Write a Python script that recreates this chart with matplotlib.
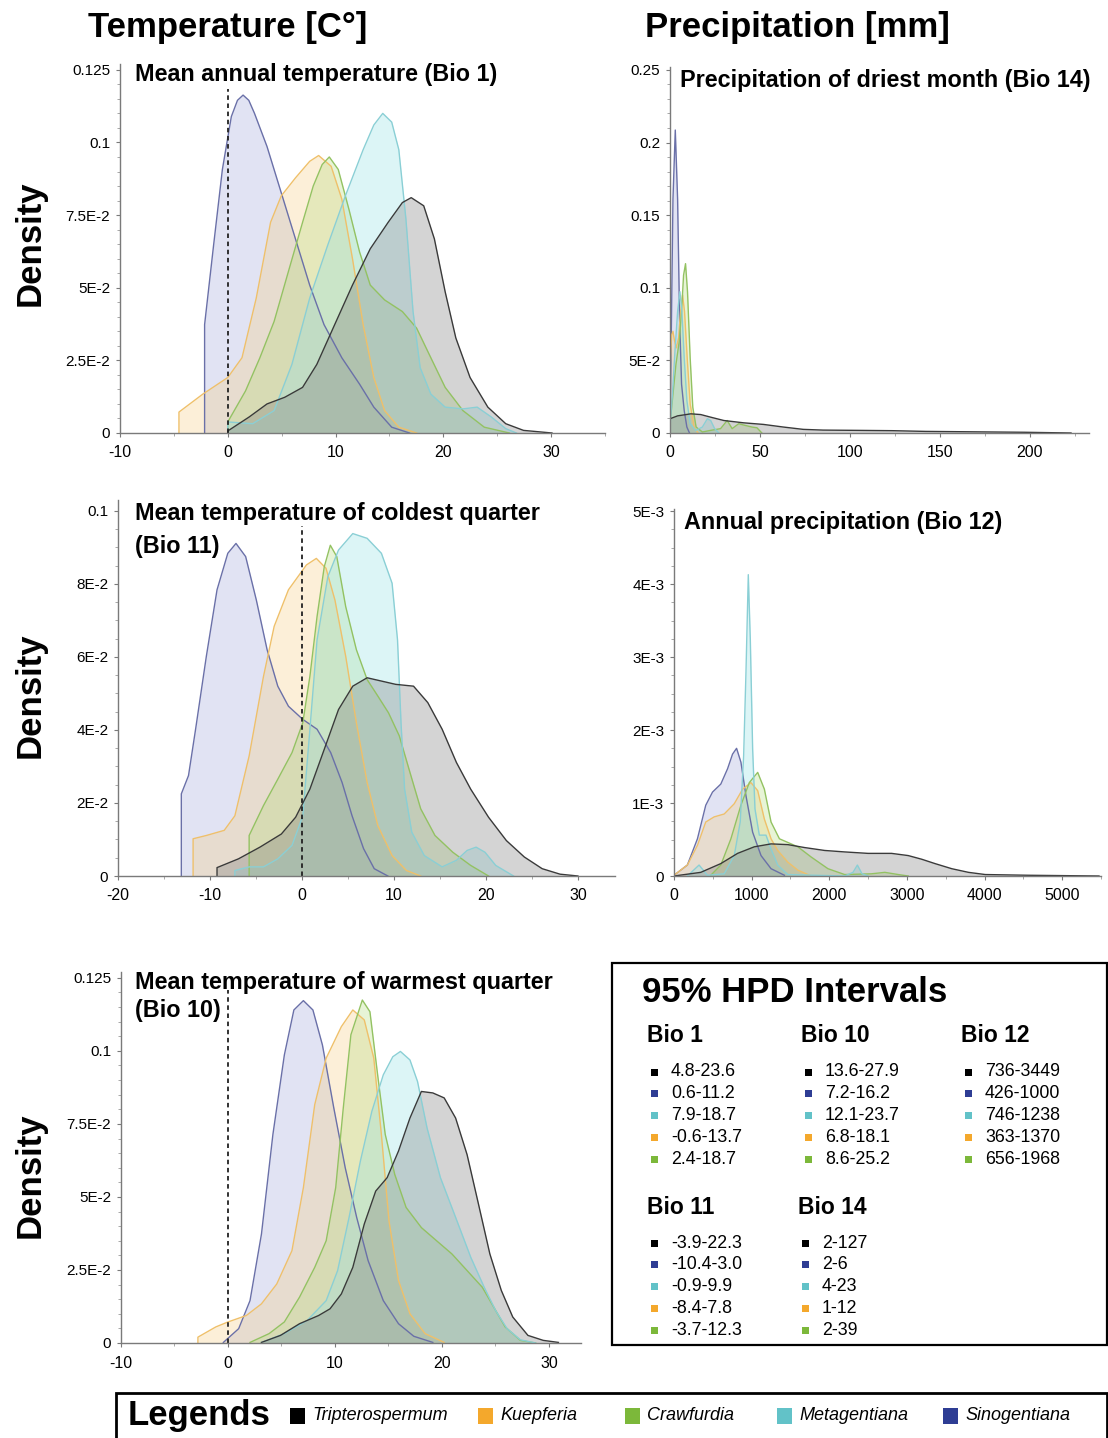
import matplotlib
matplotlib.use("Agg")
import matplotlib.pyplot as plt
from matplotlib.patches import Rectangle
from matplotlib.ticker import MultipleLocator

plt.rcParams['font.family'] = ['Liberation Sans', 'DejaVu Sans']
plt.rcParams['axes.unicode_minus'] = False

W, H = 1108, 1438

species = ["Tripterospermum", "Kuepferia", "Crawfurdia", "Metagentiana", "Sinogentiana"]
legend_colors = ["#000000", "#f4a82c", "#7cb83a", "#62c2c8", "#2e3d94"]
fill_colors = {"sino": "#a3a8dc", "kuep": "#f8cd7e", "craw": "#b2db78", "meta": "#93e0e6", "trip": "#7a7a7a"}
edge_colors = {"sino": "#6a70a8", "kuep": "#efc06a", "craw": "#93c262", "meta": "#8acfd5", "trip": "#3a3a3a"}
fill_alpha = {"sino": 0.32, "kuep": 0.3, "craw": 0.3, "meta": 0.32, "trip": 0.32}

# ---- Bio 1: mean annual temperature ----
bio1_sino_x = [-2.15, -2.15, -1.32, -0.5, 0.33, 0.9, 1.42, 1.95, 2.48, 3.64, 4.96, 6.28, 7.6, 8.93, 10.58, 12.23, 13.55, 15.21, 16.86]
bio1_sino_y = [0, 0.0373, 0.0645, 0.0907, 0.1089, 0.1145, 0.1163, 0.1145, 0.110, 0.0986, 0.0827, 0.0668, 0.0509, 0.0373, 0.0259, 0.0168, 0.0089, 0.002, 0]
bio1_kuep_x = [-4.53, -4.53, -2.31, 0, 1.32, 2.64, 3.97, 4.96, 6.28, 7.6, 8.43, 9.59, 10.58, 11.57, 12.56, 13.55, 14.55, 15.87, 17.52]
bio1_kuep_y = [0, 0.0072, 0.0134, 0.0191, 0.0259, 0.0464, 0.0725, 0.0816, 0.0878, 0.0935, 0.0955, 0.0918, 0.0805, 0.060, 0.0373, 0.0191, 0.0077, 0.002, 0]
bio1_craw_x = [0, 0, 1.65, 2.98, 4.3, 5.62, 6.94, 7.93, 8.76, 9.42, 10.25, 11.24, 12.23, 13.22, 14.55, 16.2, 17.52, 18.84, 20.17, 21.82, 23.8, 26.12]
bio1_craw_y = [0, 0.0038, 0.0145, 0.0259, 0.0384, 0.0555, 0.0725, 0.085, 0.0924, 0.095, 0.0907, 0.077, 0.0623, 0.0509, 0.0458, 0.0418, 0.0361, 0.0259, 0.0157, 0.0077, 0.002, 0]
bio1_meta_x = [0, 0, 2.31, 4.3, 5.95, 7.6, 9.26, 10.91, 12.56, 13.55, 14.38, 15.21, 15.87, 16.53, 17.19, 17.85, 18.84, 20.17, 21.82, 23.14, 24.46, 25.79, 26.78]
bio1_meta_y = [0, 0.0038, 0.0032, 0.0077, 0.0236, 0.0464, 0.0645, 0.0816, 0.0975, 0.106, 0.110, 0.107, 0.0975, 0.0736, 0.0418, 0.0225, 0.0134, 0.0089, 0.0083, 0.0089, 0.0055, 0.0015, 0]
bio1_trip_x = [0, 0, 1.98, 3.64, 5.29, 6.94, 8.26, 9.92, 11.57, 13.22, 14.88, 16.2, 17.02, 18.18, 19.17, 20.17, 21.16, 22.48, 24.13, 25.79, 27.44, 30.08]
bio1_trip_y = [0, 0.0007, 0.0055, 0.010, 0.0123, 0.0157, 0.0236, 0.0373, 0.0509, 0.0634, 0.0725, 0.0793, 0.081, 0.0782, 0.0668, 0.0486, 0.0327, 0.0191, 0.0089, 0.0032, 0.0009, 0]

# ---- Bio 14: precipitation of driest month ----
bio14_sino_x = [0, 0.55, 1.65, 2.94, 4.23, 5.33, 6.43, 7.9, 9.38, 10.85]
bio14_sino_y = [0, 0.0518, 0.161, 0.2086, 0.161, 0.079, 0.0336, 0.0155, 0.0041, 0]
bio14_kuep_x = [0, 0, 0.92, 1.65, 2.39, 3.49, 4.78, 5.88, 6.99, 8.09, 9.56, 11.21, 13.42, 15.63]
bio14_kuep_y = [0, 0.0427, 0.0677, 0.070, 0.0643, 0.0586, 0.0655, 0.0836, 0.095, 0.0836, 0.0518, 0.020, 0.0041, 0]
bio14_craw_x = [0, 0, 1.47, 3.31, 5.15, 6.43, 7.54, 8.64, 9.74, 11.21, 12.68, 14.52, 18.01, 22.61, 28.13, 31.8, 34.56, 38.24, 41.91, 45.59, 48.35, 51.1]
bio14_craw_y = [0, 0.0064, 0.0245, 0.0473, 0.0632, 0.0836, 0.1086, 0.1166, 0.0973, 0.0518, 0.0177, 0.0041, 0.0007, 0.0018, 0.003, 0.0086, 0.003, 0.0064, 0.0052, 0.0041, 0.0036, 0]
bio14_meta_x = [0, 0, 1.47, 2.76, 4.23, 5.51, 6.62, 7.9, 9.38, 11.21, 14.34, 18.01, 20.77, 22.61, 24.82, 27.21]
bio14_meta_y = [0, 0.0041, 0.029, 0.0564, 0.0836, 0.0973, 0.0836, 0.0518, 0.0223, 0.0064, 0.0018, 0.0041, 0.0098, 0.0086, 0.003, 0]
bio14_trip_x = [0, 0, 4.23, 11.58, 17.1, 22.61, 29.96, 40.99, 52.02, 63.05, 74.08, 85.11, 105.3, 123.7, 142.1, 160.5, 178.9, 197.2, 223.0]
bio14_trip_y = [0, 0.0098, 0.0118, 0.0132, 0.0127, 0.0109, 0.0086, 0.007, 0.0059, 0.0041, 0.0025, 0.002, 0.0018, 0.0016, 0.0011, 0.0009, 0.0007, 0.0005, 0]

# ---- Bio 11: mean temperature of coldest quarter ----
bio11_sino_x = [-13.12, -13.12, -12.34, -11.57, -10.4, -9.24, -8.07, -7.18, -6.13, -4.97, -3.8, -2.64, -1.48, 0.08, 1.63, 3.11, 4.35, 5.43, 6.68, 7.84, 9.32]
bio11_sino_y = [0, 0.0225, 0.0275, 0.0402, 0.0602, 0.0784, 0.0884, 0.0911, 0.0875, 0.0756, 0.062, 0.052, 0.0465, 0.0429, 0.0402, 0.0338, 0.0256, 0.0165, 0.0075, 0.002, 0]
bio11_kuep_x = [-11.84, -11.84, -10.4, -8.46, -7.3, -5.75, -4.19, -3.03, -1.48, 0.47, 1.55, 2.6, 3.57, 4.74, 5.9, 7.07, 8.23, 9.78, 11.34, 12.89]
bio11_kuep_y = [0, 0.0102, 0.0111, 0.0125, 0.0165, 0.0329, 0.0547, 0.0684, 0.0784, 0.0852, 0.087, 0.0843, 0.0756, 0.0602, 0.042, 0.0256, 0.0138, 0.0056, 0.0015, 0]
bio11_craw_x = [-5.75, -5.75, -4.19, -2.64, -1.09, 0.08, 0.85, 1.63, 2.41, 3.07, 3.77, 4.74, 5.9, 7.07, 8.23, 9.39, 10.56, 11.72, 12.89, 14.44, 16.38, 18.32, 20.26]
bio11_craw_y = [0, 0.0111, 0.0193, 0.0265, 0.0338, 0.042, 0.0547, 0.0711, 0.0847, 0.0906, 0.0875, 0.0738, 0.062, 0.0538, 0.0493, 0.0447, 0.0384, 0.0284, 0.0184, 0.0111, 0.0065, 0.0029, 0]
bio11_meta_x = [-7.3, -7.3, -5.75, -4.19, -2.64, -1.09, 0.08, 0.85, 1.63, 2.8, 3.96, 5.51, 7.07, 8.62, 9.78, 10.37, 10.75, 11.14, 11.92, 13.28, 15.22, 16.77, 17.93, 18.91, 19.88, 21.04, 22.98]
bio11_meta_y = [0, 0.0015, 0.0025, 0.0025, 0.0047, 0.0084, 0.0165, 0.0402, 0.0647, 0.082, 0.0893, 0.0938, 0.0925, 0.0884, 0.0802, 0.0647, 0.042, 0.0238, 0.012, 0.0056, 0.0025, 0.0043, 0.007, 0.0079, 0.0065, 0.0029, 0]
bio11_trip_x = [-9.24, -9.24, -6.91, -4.58, -2.25, -0.7, 0.85, 2.41, 3.96, 5.51, 7.07, 8.62, 10.17, 12.11, 13.66, 15.22, 16.77, 18.32, 20.26, 22.2, 24.15, 26.09, 28.03, 29.97]
bio11_trip_y = [0, 0.0023, 0.0047, 0.0079, 0.0115, 0.0161, 0.0238, 0.0347, 0.0456, 0.052, 0.0543, 0.0534, 0.0525, 0.052, 0.0475, 0.0402, 0.0311, 0.0238, 0.0161, 0.0097, 0.0052, 0.002, 0.0005, 0]

# ---- Bio 12: annual precipitation ----
bio12_sino_x = [0, 172, 302, 409, 496, 603, 690, 754, 806, 862, 927, 1013, 1121, 1250, 1422]
bio12_sino_y = [0.00001, 0.00015, 0.00051, 0.00097, 0.00115, 0.00126, 0.00147, 0.00167, 0.00175, 0.00156, 0.0011, 0.0006, 0.00028, 0.0001, 0.00001]
bio12_kuep_x = [0, 172, 302, 409, 517, 647, 776, 884, 991, 1078, 1164, 1250, 1336, 1466, 1595, 1746]
bio12_kuep_y = [0.00001, 0.00015, 0.00042, 0.00074, 0.00081, 0.00085, 0.00099, 0.00119, 0.00128, 0.00117, 0.00078, 0.00051, 0.00035, 0.00019, 0.00008, 0.00001]
bio12_craw_x = [474, 603, 733, 862, 970, 1078, 1164, 1250, 1358, 1466, 1595, 1767, 1983, 2198, 2543, 2716, 2888, 3017]
bio12_craw_y = [0.00001, 0.00015, 0.00051, 0.00097, 0.00128, 0.00142, 0.00119, 0.00074, 0.00051, 0.00046, 0.0004, 0.00026, 0.0001, 0.00002, 0.00003, 0.00005, 0.00002, 0]
bio12_meta_x = [172, 323, 431, 647, 776, 853, 897, 927, 957, 983, 1013, 1043, 1099, 1185, 1250, 1336, 1466, 2198, 2306, 2362, 2422, 2500]
bio12_meta_y = [0, 0.00015, 0.00001, 0.00003, 0.00028, 0.00074, 0.00165, 0.00279, 0.00413, 0.00324, 0.00174, 0.00092, 0.00056, 0.00056, 0.00037, 0.00015, 0.00002, 0, 0.00005, 0.00015, 0.00003, 0]
bio12_trip_x = [0, 345, 603, 819, 1034, 1250, 1466, 1681, 1940, 2198, 2500, 2802, 3017, 3190, 3362, 3578, 3793, 4009, 4569, 5474]
bio12_trip_y = [0, 0.00005, 0.00017, 0.00031, 0.0004, 0.00044, 0.00043, 0.00039, 0.00035, 0.00033, 0.00031, 0.00031, 0.00028, 0.00023, 0.00017, 0.0001, 0.00005, 0.00002, 0.00001, 0]

# ---- Bio 10: mean temperature of warmest quarter ----
bio10_sino_x = [-0.43, 1.0, 2.06, 3.13, 4.2, 5.27, 6.16, 7.05, 7.94, 8.83, 9.89, 10.96, 12.03, 13.1, 14.52, 15.94, 17.37, 19.15]
bio10_sino_y = [0.0002, 0.0049, 0.0145, 0.0373, 0.0714, 0.0986, 0.114, 0.1172, 0.114, 0.102, 0.0805, 0.060, 0.043, 0.0282, 0.0145, 0.0066, 0.0023, 0.0002]
bio10_kuep_x = [-2.81, -2.81, -1.14, 0, 1.71, 3.13, 4.56, 5.98, 7.05, 8.11, 9.18, 10.6, 11.67, 12.74, 13.63, 14.34, 15.05, 15.94, 17.01, 18.43, 20.21]
bio10_kuep_y = [0, 0.002, 0.0055, 0.0072, 0.0094, 0.0134, 0.0202, 0.0316, 0.0532, 0.0816, 0.0975, 0.1083, 0.114, 0.1106, 0.0975, 0.0714, 0.0418, 0.0214, 0.010, 0.0032, 0.0002]
bio10_craw_x = [2.06, 3.84, 5.27, 6.69, 8.11, 9.18, 10.07, 10.78, 11.49, 12.56, 13.27, 13.99, 14.7, 15.59, 16.65, 18.08, 19.5, 20.93, 22.35, 23.77, 24.84, 25.91, 27.33, 28.75]
bio10_craw_y = [0.0002, 0.0032, 0.0072, 0.0157, 0.0259, 0.035, 0.0532, 0.0805, 0.1055, 0.1174, 0.1134, 0.0918, 0.0714, 0.0577, 0.0464, 0.0395, 0.035, 0.0305, 0.0248, 0.0191, 0.0123, 0.0055, 0.0009, 0]
bio10_meta_x = [3.13, 5.27, 7.4, 9.18, 10.25, 11.32, 12.38, 13.45, 14.52, 15.41, 16.12, 17.01, 17.72, 18.61, 19.86, 21.28, 22.7, 23.95, 25.02, 26.09, 27.33, 28.75]
bio10_meta_y = [0.0002, 0.0032, 0.0077, 0.0145, 0.0248, 0.043, 0.0623, 0.0793, 0.0918, 0.098, 0.0998, 0.0969, 0.0895, 0.0736, 0.0566, 0.043, 0.0293, 0.0191, 0.0111, 0.0049, 0.0011, 0]
bio10_trip_x = [3.13, 4.91, 6.69, 8.47, 9.54, 10.6, 11.67, 12.74, 13.81, 14.88, 15.94, 17.01, 18.08, 19.15, 20.21, 21.28, 22.35, 23.42, 24.48, 25.55, 26.62, 28.04, 29.47, 30.89]
bio10_trip_y = [0.0002, 0.0026, 0.0066, 0.0094, 0.0117, 0.0168, 0.0259, 0.0407, 0.052, 0.0566, 0.0657, 0.077, 0.0861, 0.0856, 0.0839, 0.077, 0.0645, 0.0475, 0.0305, 0.018, 0.0089, 0.0026, 0.0009, 0.0002]

# ---- tick labels ----
temp_yticks = [0, 0.025, 0.05, 0.075, 0.1, 0.125]
temp_ylabels = ["0", "2.5E-2", "5E-2", "7.5E-2", "0.1", "0.125"]
bio14_yticks = [0, 0.05, 0.1, 0.15, 0.2, 0.25]
bio14_ylabels = ["0", "5E-2", "0.1", "0.15", "0.2", "0.25"]
bio11_yticks = [0, 0.02, 0.04, 0.06, 0.08, 0.1]
bio11_ylabels = ["0", "2E-2", "4E-2", "6E-2", "8E-2", "0.1"]
bio12_yticks = [0, 0.001, 0.002, 0.003, 0.004, 0.005]
bio12_ylabels = ["0", "1E-3", "2E-3", "3E-3", "4E-3", "5E-3"]

# ---- 95% HPD intervals (Tripterospermum, Sinogentiana, Metagentiana, Kuepferia, Crawfurdia) ----
hpd_colors = ["#000000", "#2e3d94", "#62c2c8", "#f4a82c", "#7cb83a"]
hpd_bio1 = ["4.8-23.6", "0.6-11.2", "7.9-18.7", "-0.6-13.7", "2.4-18.7"]
hpd_bio10 = ["13.6-27.9", "7.2-16.2", "12.1-23.7", "6.8-18.1", "8.6-25.2"]
hpd_bio12 = ["736-3449", "426-1000", "746-1238", "363-1370", "656-1968"]
hpd_bio11 = ["-3.9-22.3", "-10.4-3.0", "-0.9-9.9", "-8.4-7.8", "-3.7-12.3"]
hpd_bio14 = ["2-127", "2-6", "4-23", "1-12", "2-39"]

fig = plt.figure(figsize=(W / 100, H / 100), dpi=100)


def fx(x):
    return x / W


def fy(y):
    return 1 - y / H


def make_axes(left, top, right, bottom):
    return fig.add_axes([fx(left), fy(bottom), (right - left) / W, (bottom - top) / H])


def draw_panel(ax, curves, xlim, ylim, yticks, ylabels, xmajor, ymin_step, zero_line=None):
    for key, xs, ys in curves:
        ax.fill_between(xs, ys, 0, color=fill_colors[key], alpha=fill_alpha[key], linewidth=0)
        ax.plot(xs, ys, color=edge_colors[key], lw=1.0, solid_joinstyle="round")
    ax.set_xlim(*xlim)
    ax.set_ylim(*ylim)
    ax.set_yticks(yticks)
    ax.set_yticklabels(ylabels)
    ax.xaxis.set_major_locator(MultipleLocator(xmajor))
    ax.xaxis.set_minor_locator(MultipleLocator(xmajor / 2))
    ax.yaxis.set_minor_locator(MultipleLocator(ymin_step))
    for s in ["top", "right"]:
        ax.spines[s].set_visible(False)
    for s in ["left", "bottom"]:
        ax.spines[s].set_color("#7a7a7a")
        ax.spines[s].set_linewidth(1.0)
    ax.tick_params(axis="both", which="major", labelsize=11, length=3, color="#7a7a7a", pad=4)
    ax.tick_params(axis="both", which="minor", length=2, color="#9a9a9a")
    ax.tick_params(axis="x", pad=6, labelsize=11.5)
    if zero_line is not None:
        ax.plot([0, 0], [0, zero_line], ls=(0, (2.5, 2)), color="#222222", lw=1.3)


def curves_for(prefix):
    g = globals()
    return [(k, g[f"{prefix}_{k}_x"], g[f"{prefix}_{k}_y"]) for k in ["sino", "kuep", "craw", "meta", "trip"]]


ax1 = make_axes(120, 64, 605, 433)
draw_panel(ax1, curves_for("bio1"), (-10, 35), (0, 0.127), temp_yticks, temp_ylabels, 10, 0.005, zero_line=0.1185)

ax2 = make_axes(670, 67, 1089, 433)
draw_panel(ax2, curves_for("bio14"), (0, 233), (0, 0.252), bio14_yticks, bio14_ylabels, 50, 0.01)

ax3 = make_axes(118, 500, 615, 876)
draw_panel(ax3, curves_for("bio11"), (-20, 34), (0, 0.103), bio11_yticks, bio11_ylabels, 10, 0.005, zero_line=0.096)

ax4 = make_axes(674, 509, 1101, 876)
draw_panel(ax4, curves_for("bio12"), (0, 5500), (0, 0.00503), bio12_yticks, bio12_ylabels, 1000, 0.00025)

ax5 = make_axes(121, 972, 581, 1343)
draw_panel(ax5, curves_for("bio10"), (-10, 33), (0, 0.127), temp_yticks, temp_ylabels, 10, 0.005, zero_line=0.121)

# column headers
fig.text(fx(228), fy(28), "Temperature [C°]", fontsize=25, fontweight="bold", ha="center", va="center")
fig.text(fx(797), fy(28), "Precipitation [mm]", fontsize=25, fontweight="bold", ha="center", va="center")

# Density labels
for yc in [243, 695, 1175]:
    fig.text(fx(30), fy(yc), "Density", fontsize=25, fontweight="bold", rotation=90, ha="center", va="center")

# panel titles
title_kw = dict(fontsize=16.8, fontweight="bold", va="center", ha="left")
fig.text(fx(135), fy(74), "Mean annual temperature (Bio 1)", **title_kw)
fig.text(fx(680), fy(80), "Precipitation of driest month (Bio 14)", **title_kw)
fig.text(fx(135), fy(514), "Mean temperature of coldest quarter", **title_kw)
fig.text(fx(135), fy(546), "(Bio 11)", **title_kw)
fig.text(fx(684), fy(522), "Annual precipitation (Bio 12)", **title_kw)
fig.text(fx(135), fy(982), "Mean temperature of warmest quarter", **title_kw)
fig.text(fx(135), fy(1011), "(Bio 10)", **title_kw)

# HPD box
fig.add_artist(Rectangle((fx(612), fy(1345)), (1107 - 612) / W, (1345 - 963) / H,
                         transform=fig.transFigure, fill=False, edgecolor="black", lw=1.6))
fig.text(fx(642), fy(992), "95% HPD Intervals", fontsize=25, fontweight="bold", va="center", ha="left")


def hpd_block(x_head, y_head, values):
    fig.text(fx(x_head), fy(y_head), f"Bio {values[0]}", fontsize=16.5, fontweight="bold", va="center", ha="left")
    for i, (txt, col) in enumerate(zip(values[1], hpd_colors)):
        yc = y_head + 36 + i * 21.8
        fig.add_artist(Rectangle((fx(x_head + 4), fy(yc + 3.5)), 7 / W, 7 / H,
                                 transform=fig.transFigure, color=col, lw=0))
        fig.text(fx(x_head + 24), fy(yc), txt, fontsize=12.8, va="center", ha="left")


hpd_block(647, 1036, ("1", hpd_bio1))
hpd_block(801, 1036, ("10", hpd_bio10))
hpd_block(961, 1036, ("12", hpd_bio12))
hpd_block(647, 1207, ("11", hpd_bio11))
hpd_block(798, 1207, ("14", hpd_bio14))

# bottom legend
fig.add_artist(Rectangle((fx(116), fy(1450)), (1107 - 116) / W, (1450 - 1393) / H,
                         transform=fig.transFigure, fill=False, edgecolor="black", lw=2))
fig.text(fx(128), fy(1416), "Legends", fontsize=25, fontweight="bold", va="center", ha="left")
legend_x = [290, 478, 625, 777, 943]
for name, col, lx in zip(species, legend_colors, legend_x):
    fig.add_artist(Rectangle((fx(lx), fy(1424)), 15 / W, 16 / H, transform=fig.transFigure, color=col, lw=0))
    fig.text(fx(lx + 22), fy(1416), name, fontsize=13, style="italic", va="center", ha="left")

fig.savefig("out.png", dpi=100)
